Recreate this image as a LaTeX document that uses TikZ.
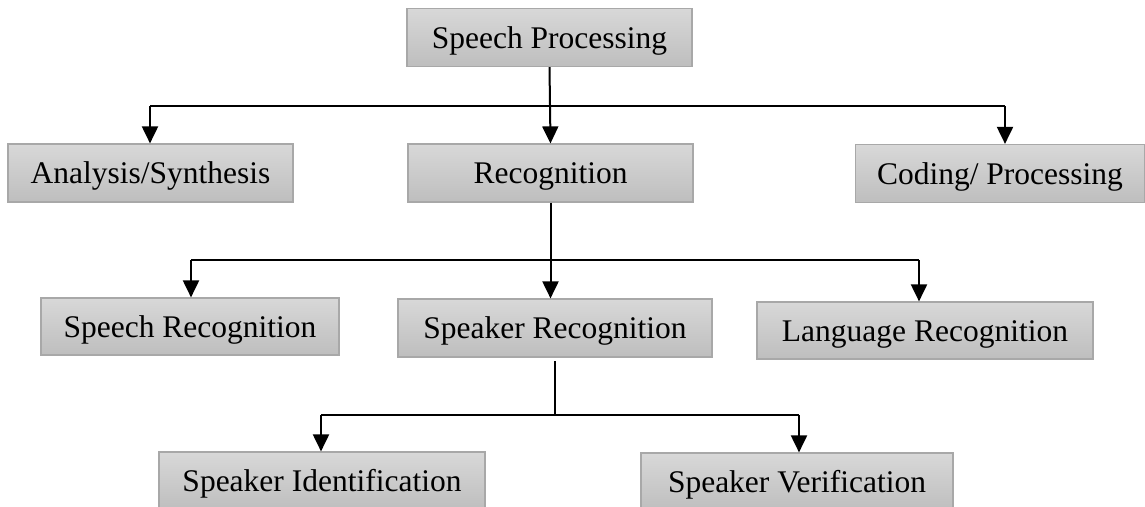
\documentclass[tikz,border=0pt]{standalone}
\usepackage{fontspec}
\setmainfont{Liberation Serif}
\usetikzlibrary{arrows.meta}
\definecolor{boxtop}{RGB}{216,216,216}
\definecolor{boxbot}{RGB}{190,190,190}
\definecolor{boxline}{RGB}{168,168,168}
\begin{document}
\begin{tikzpicture}[x=1pt,y=-1pt,
  box/.style={rectangle, draw=boxline, line width=1.2pt, top color=boxtop, bottom color=boxbot,
    inner sep=0pt, text height=21pt, text depth=0pt,
    font=\fontsize{31.5}{36}\selectfont, text=black},
  conn/.style={line width=2pt, black},
  arr/.style={conn, -{Triangle[length=17pt,width=16pt]}}]
\useasboundingbox (0,0) rectangle (1145,506);
% nodes
\node[box, minimum width=285pt, minimum height=58pt] (sp) at (549.5,37.5) {Speech Processing};
\node[box, minimum width=285pt, minimum height=58pt] (as) at (150.5,173) {Analysis/Synthesis};
\node[box, minimum width=285pt, minimum height=58pt] (rec) at (550.5,173) {Recognition};
\node[box, minimum width=289pt, minimum height=58pt] (co) at (1000,173.5) {Coding/ Processing};
\node[box, minimum width=298pt, minimum height=57pt] (sr) at (190,326.5) {Speech Recognition};
\node[box, minimum width=314pt, minimum height=58pt] (skr) at (555,328) {Speaker Recognition};
\node[box, minimum width=336pt, minimum height=57pt] (lr) at (925,330.5) {Language Recognition};
\node[box, minimum width=326pt, minimum height=58pt] (si) at (322,481) {Speaker Identification};
\node[box, minimum width=312pt, minimum height=58pt] (sv) at (797,482) {Speaker Verification};
% junction coordinates
\coordinate (h1l) at (150,106);
\coordinate (h1r) at (1005,106);
\coordinate (h2l) at (191,260);
\coordinate (h2r) at (919,260);
\coordinate (h3l) at (321,415);
\coordinate (h3r) at (799,415);
\coordinate (h3s) at (555,361);
% level 1
\draw[arr] (sp.south) -- (rec.north);
\draw[conn] (h1l) -- (h1r);
\draw[arr] (h1l) -- (h1l |- as.north);
\draw[arr] (h1r) -- (h1r |- co.north);
% level 2
\draw[arr] (rec.south) -- (rec.south |- skr.north);
\draw[conn] (h2l) -- (h2r);
\draw[arr] (h2l) -- (h2l |- sr.north);
\draw[arr] (h2r) -- (h2r |- lr.north);
% level 3
\draw[conn] (h3s) -- (h3s |- h3l);
\draw[conn] (h3l) -- (h3r);
\draw[arr] (h3l) -- (h3l |- si.north);
\draw[arr] (h3r) -- (h3r |- sv.north);
\end{tikzpicture}
\end{document}
